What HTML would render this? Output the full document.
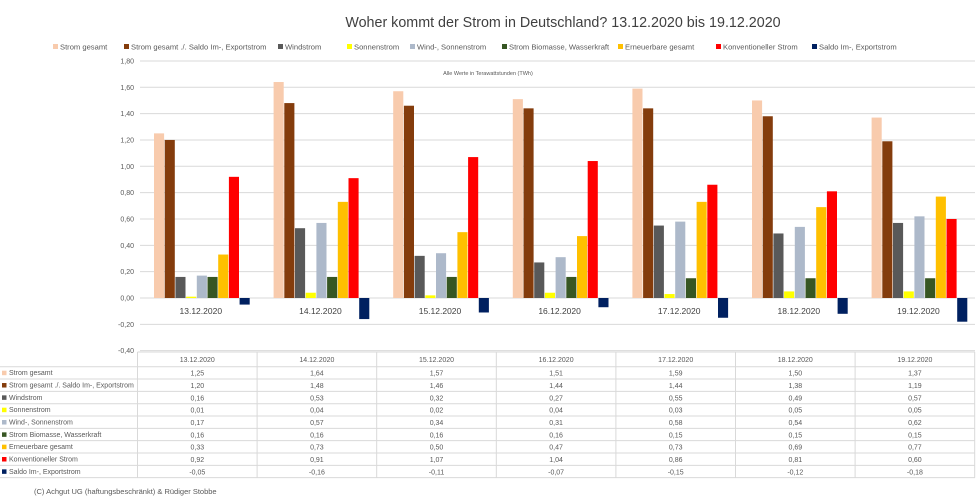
<!DOCTYPE html>
<html><head><meta charset="utf-8"><style>
body{margin:0;background:#fff;}
svg{display:block;font-family:"Liberation Sans",sans-serif;}
</style></head><body>
<svg id="s" width="976" height="501" xmlns="http://www.w3.org/2000/svg"></svg>
<script>
const data=[
["Strom gesamt","#F8CBAD",[1.25,1.64,1.57,1.51,1.59,1.50,1.37]],
["Strom gesamt ./. Saldo Im-, Exportstrom","#843C0C",[1.20,1.48,1.46,1.44,1.44,1.38,1.19]],
["Windstrom","#595959",[0.16,0.53,0.32,0.27,0.55,0.49,0.57]],
["Sonnenstrom","#FFFF00",[0.01,0.04,0.02,0.04,0.03,0.05,0.05]],
["Wind-, Sonnenstrom","#ADB9CA",[0.17,0.57,0.34,0.31,0.58,0.54,0.62]],
["Strom Biomasse, Wasserkraft","#375623",[0.16,0.16,0.16,0.16,0.15,0.15,0.15]],
["Erneuerbare gesamt","#FFC000",[0.33,0.73,0.50,0.47,0.73,0.69,0.77]],
["Konventioneller Strom","#FF0000",[0.92,0.91,1.07,1.04,0.86,0.81,0.60]],
["Saldo Im-, Exportstrom","#002060",[-0.05,-0.16,-0.11,-0.07,-0.15,-0.12,-0.18]]];
const cats=["13.12.2020","14.12.2020","15.12.2020","16.12.2020","17.12.2020","18.12.2020","19.12.2020"];
const f=v=>v.toFixed(2).replace('.',',');
let h='';
h+=`<text x="563" y="27" font-size="14.3" fill="#404040" text-anchor="middle">Woher kommt der Strom in Deutschland? 13.12.2020 bis 19.12.2020</text>`;
const lx=[53,124,278,347,410,502,618,716,812];
data.forEach((d,i)=>{h+=`<rect x="${lx[i]}" y="44" width="5" height="5" fill="${d[1]}"/><text x="${lx[i]+7}" y="49.5" font-size="7.6" fill="#595959">${d[0]}</text>`;});
h+=`<text x="488" y="75" font-size="5.5" fill="#595959" text-anchor="middle">Alle Werte in Terawattstunden (TWh)</text>`;
const Y=v=>298-v*131.7;
for(let k=-2;k<=9;k++){const v=k*0.2,y=Y(v);
 h+=`<line x1="140" x2="975" y1="${y}" y2="${y}" stroke="#d9d9d9" stroke-width="1"/>`;
 h+=`<text x="134" y="${y+2.5}" font-size="7" fill="#595959" text-anchor="end">${f(v)}</text>`;}
const gw=119.6,bw=10.7;
cats.forEach((c,g)=>{const s=141+g*gw;
 data.forEach((d,j)=>{const v=d[2][g];const x=s+13+j*bw;const y0=Y(Math.max(v,0)),y1=Y(Math.min(v,0));
  h+=`<rect x="${x}" y="${y0}" width="${bw-0.6}" height="${y1-y0}" fill="${d[1]}"/>`;});
 h+=`<text x="${s+gw/2}" y="314" font-size="8.5" fill="#404040" text-anchor="middle">${c}</text>`;});
const tx=137.5,ty=352,rh=12.33;
h+=`<line x1="${tx}" x2="975" y1="${ty}" y2="${ty}" stroke="#d9d9d9"/>`;
for(let r=0;r<=9;r++){const y=ty+14.7+r*rh;h+=`<line x1="0" x2="975" y1="${y}" y2="${y}" stroke="#d9d9d9"/>`;}
for(let c=0;c<=7;c++){const x=tx+c*gw;h+=`<line x1="${x}" x2="${x}" y1="${ty}" y2="${ty+14.7+9*rh}" stroke="#d9d9d9"/>`;}
cats.forEach((c,g)=>{h+=`<text x="${tx+g*gw+gw/2}" y="${ty+10}" font-size="7" fill="#595959" text-anchor="middle">${c}</text>`;});
data.forEach((d,i)=>{const y=ty+14.7+i*rh;
 h+=`<rect x="2" y="${y+4}" width="4.5" height="4.5" fill="${d[1]}"/><text x="9" y="${y+8.5}" font-size="7" fill="#595959">${d[0]}</text>`;
 d[2].forEach((v,g)=>{h+=`<text x="${tx+g*gw+gw/2}" y="${y+9}" font-size="7" fill="#595959" text-anchor="middle">${f(v)}</text>`;});});
h+=`<text x="34" y="494" font-size="7.5" fill="#595959">(C) Achgut UG (haftungsbeschränkt) &amp; Rüdiger Stobbe</text>`;
document.getElementById('s').innerHTML=h;
</script>
</body></html>
